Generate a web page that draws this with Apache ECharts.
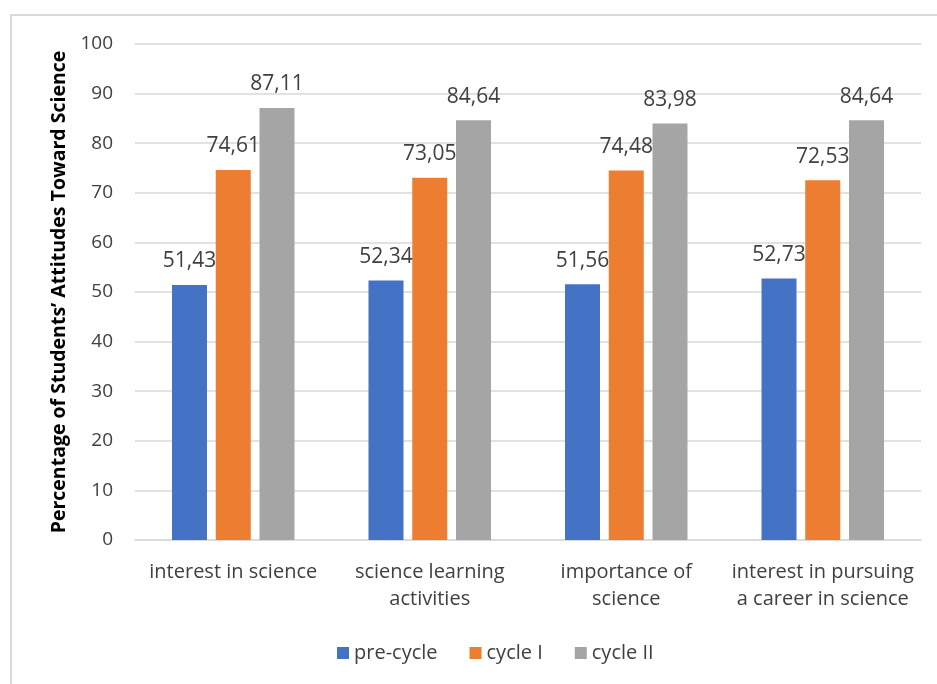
<!DOCTYPE html>
<html>
<head>
<meta charset="utf-8">
<script src="https://cdn.jsdelivr.net/npm/echarts@6/dist/echarts.min.js"></script>
<style>
  html, body { margin: 0; padding: 0; background: #fff; }
  #chart { width: 937px; height: 684px; }
</style>
</head>
<body>
<div id="chart"></div>
<script>
// 数据
const categories = [
  "interest in science",
  "science learning\nactivities",
  "importance of\nscience",
  "interest in pursuing\na career in science"
];
const preCycle = [51.43, 52.34, 51.56, 52.73];
const cycleI = [74.61, 73.05, 74.48, 72.53];
const cycleII = [87.11, 84.64, 83.98, 84.64];

const font = "'Open Sans', sans-serif";

const myChart = echarts.init(document.getElementById("chart"));

const labelFmt = p => p.value.toFixed(2).replace(".", ",");

const makeSeries = (name, data, color) => ({
  name,
  type: "bar",
  data,
  barWidth: 35,
  barGap: "25%",
  itemStyle: { color },
  label: {
    show: true,
    position: "top",
    distance: 13,
    formatter: labelFmt,
    color: "#404040",
    fontFamily: font,
    fontSize: 21
  }
});

const option = {
  animation: false,
  graphic: [
    {
      type: "rect",
      shape: { x: 11, y: 15, width: 940, height: 700 },
      style: { fill: "none", stroke: "#d9d9d9", lineWidth: 2 },
      silent: true
    }
  ],
  grid: { left: 135, right: 16, top: 44, bottom: 144 },
  legend: {
    bottom: 16,
    left: 332,
    itemWidth: 12,
    itemHeight: 12,
    itemGap: 32,
    icon: "rect",
    textStyle: { color: "#404040", fontFamily: font, fontSize: 20 },
    data: ["pre-cycle", "cycle I", "cycle II"]
  },
  xAxis: {
    type: "category",
    data: categories,
    axisLine: { lineStyle: { color: "#d9d9d9", width: 1.5 } },
    axisTick: { show: false },
    axisLabel: {
      color: "#404040",
      fontFamily: font,
      fontSize: 20,
      lineHeight: 27,
      margin: 19,
      interval: 0
    }
  },
  yAxis: {
    type: "value",
    min: 0,
    max: 100,
    interval: 10,
    name: "Percentage of Students’ Attitudes Toward Science",
    nameLocation: "middle",
    nameGap: 66,
    nameRotate: 90,
    nameTextStyle: {
      color: "#000",
      fontFamily: font,
      fontSize: 19.5,
      fontWeight: "bold"
    },
    axisLine: { show: false },
    axisTick: { show: false },
    axisLabel: {
      color: "#404040",
      fontFamily: font,
      fontSize: 19,
      margin: 22
    },
    splitLine: { lineStyle: { color: "#d9d9d9", width: 1.5 } }
  },
  series: [
    makeSeries("pre-cycle", preCycle, "#4472c4"),
    makeSeries("cycle I", cycleI, "#ed7d31"),
    makeSeries("cycle II", cycleII, "#a5a5a5")
  ]
};

myChart.setOption(option);
</script>
</body>
</html>
